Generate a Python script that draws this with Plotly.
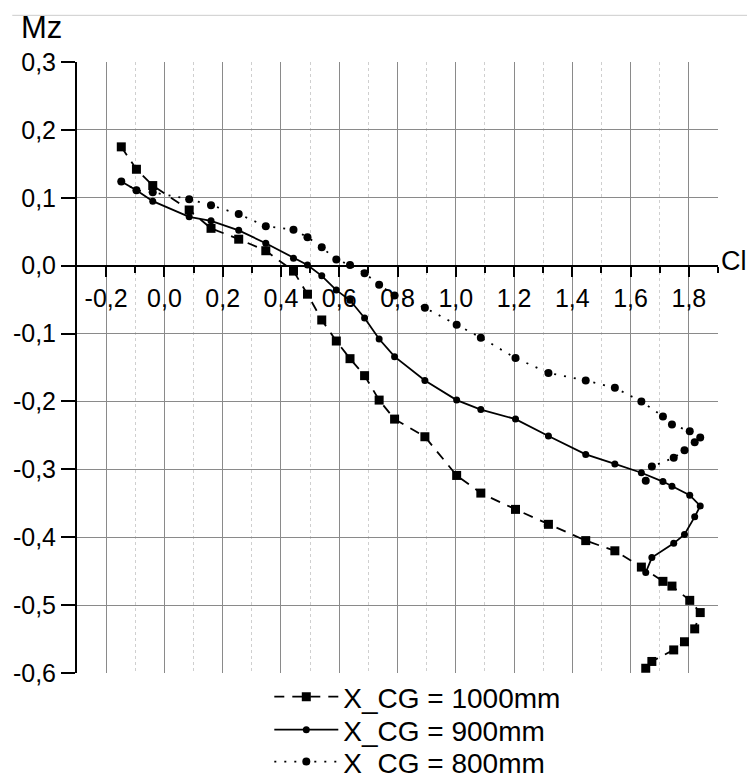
import plotly.graph_objects as go

# Shared lift coefficient values (Cl)
cl = [-0.148, -0.096, -0.040, 0.085, 0.160, 0.255, 0.348, 0.443, 0.491, 0.540,
      0.590, 0.637, 0.687, 0.737, 0.790, 0.894, 1.003, 1.086, 1.205, 1.318,
      1.446, 1.546, 1.637, 1.711, 1.742, 1.803, 1.839, 1.820, 1.785, 1.748,
      1.673, 1.652]

mz_1000 = [0.175, 0.142, 0.118, 0.082, 0.055, 0.039, 0.022, -0.008, -0.042, -0.080,
           -0.111, -0.137, -0.162, -0.198, -0.226, -0.252, -0.309, -0.335, -0.359, -0.381,
           -0.405, -0.420, -0.444, -0.465, -0.472, -0.493, -0.511, -0.535, -0.554, -0.566,
           -0.583, -0.593]

mz_900 = [0.124, 0.111, 0.095, 0.072, 0.066, 0.052, 0.033, 0.011, 0.001, -0.015,
          -0.036, -0.051, -0.077, -0.108, -0.134, -0.169, -0.198, -0.212, -0.226, -0.251,
          -0.278, -0.292, -0.305, -0.318, -0.325, -0.338, -0.354, -0.370, -0.396, -0.409,
          -0.430, -0.452]

mz_800 = [0.124, 0.111, 0.108, 0.098, 0.089, 0.076, 0.058, 0.053, 0.042, 0.027,
          0.009, 0.001, -0.011, -0.028, -0.044, -0.062, -0.087, -0.106, -0.136, -0.158,
          -0.169, -0.180, -0.200, -0.222, -0.234, -0.244, -0.253, -0.260, -0.272, -0.283,
          -0.296, -0.317]

series_names = ["X_CG = 1000mm", "X_CG = 900mm", "X_CG = 800mm"]

x_tickvals = [-0.2, 0.0, 0.2, 0.4, 0.6, 0.8, 1.0, 1.2, 1.4, 1.6, 1.8]
x_ticktext = ["-0,2", "0,0", "0,2", "0,4", "0,6", "0,8", "1,0", "1,2", "1,4", "1,6", "1,8"]
x_minorvals = [-0.1, 0.1, 0.3, 0.5, 0.7, 0.9, 1.1, 1.3, 1.5, 1.7, 1.9]

y_tickvals = [-0.6, -0.5, -0.4, -0.3, -0.2, -0.1, 0.0, 0.1, 0.2, 0.3]
y_ticktext = ["-0,6", "-0,5", "-0,4", "-0,3", "-0,2", "-0,1", "0,0", "0,1", "0,2", "0,3"]
y_gridvals = [-0.5, -0.4, -0.3, -0.2, -0.1, 0.0, 0.1, 0.2]

FONT = "Liberation Sans, Arial, sans-serif"

fig = go.Figure()
fig.add_trace(go.Scatter(
    x=cl, y=mz_1000, name=series_names[0], mode="lines+markers", legend="legend",
    line=dict(color="black", width=1.8, dash="10px,8px"),
    marker=dict(symbol="square", size=9, color="black")))
fig.add_trace(go.Scatter(
    x=cl, y=mz_900, name=series_names[1], mode="lines+markers", legend="legend2",
    line=dict(color="black", width=1.8),
    marker=dict(symbol="circle", size=7, color="black")))
fig.add_trace(go.Scatter(
    x=cl, y=mz_800, name=series_names[2], mode="lines+markers", legend="legend3",
    line=dict(color="black", width=1.8, dash="2px,8px"),
    marker=dict(symbol="circle", size=8, color="black")))

leg_common = dict(x=0.300, xanchor="left", yanchor="middle",
                  font=dict(size=28, family=FONT, color="black"), itemwidth=64,
                  bgcolor="rgba(0,0,0,0)")

fig.update_layout(
    width=747, height=768,
    margin=dict(l=69, r=37, t=54, b=103, autoexpand=False),
    paper_bgcolor="white", plot_bgcolor="white",
    font=dict(family=FONT, color="black", size=25),
    showlegend=True,
    legend=dict(y=-0.0392, **leg_common),
    legend2=dict(y=-0.0932, **leg_common),
    legend3=dict(y=-0.1455, **leg_common),
    xaxis=dict(
        range=[-0.3, 1.9], anchor="free", position=2/3, side="bottom",
        automargin=False,
        showline=True, linecolor="black", linewidth=2,
        zeroline=False,
        tickmode="array", tickvals=x_tickvals, ticktext=x_ticktext,
        ticks="outside", ticklen=10, tickwidth=2, tickcolor="black",
        showgrid=True, gridcolor="#8a8a8a", gridwidth=1,
        tickfont=dict(size=25),
        minor=dict(tickvals=x_minorvals, ticks="outside", ticklen=6, tickwidth=2,
                   tickcolor="black", showgrid=True, gridcolor="#cfcfcf",
                   griddash="dot", gridwidth=1),
    ),
    yaxis=dict(
        range=[-0.6, 0.3], automargin=False,
        showline=True, linecolor="black", linewidth=2,
        zeroline=False,
        tickmode="array", tickvals=y_tickvals, ticktext=y_ticktext,
        ticks="outside", ticklen=14, tickwidth=2, tickcolor="black",
        showgrid=False,
        tickfont=dict(size=25),
        minor=dict(tickvals=y_gridvals, ticks="", showgrid=True,
                   gridcolor="#8a8a8a", gridwidth=1),
    ),
    annotations=[
        dict(text="Mz", xref="paper", yref="paper", x=-0.09, y=1.056,
             xanchor="left", yanchor="middle", showarrow=False,
             font=dict(size=31)),
        dict(text="Cl", xref="paper", yref="paper", x=1.002, y=2/3 + 0.008,
             xanchor="left", yanchor="middle", showarrow=False,
             font=dict(size=27)),
    ],
    shapes=[
        dict(type="line", xref="paper", yref="paper", x0=-0.101, x1=1.06,
             y0=1.0764, y1=1.0764, line=dict(color="#cccccc", width=1)),
    ],
)

fig.write_html("out.html")
